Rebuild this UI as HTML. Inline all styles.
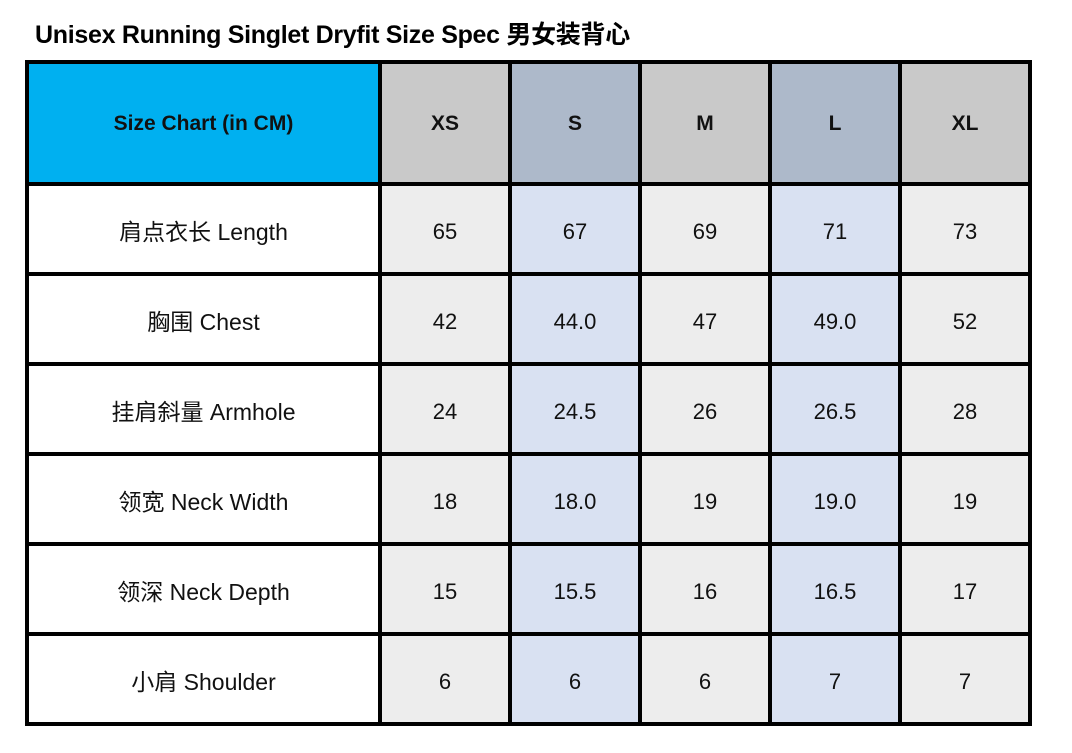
<!DOCTYPE html>
<html><head><meta charset="utf-8"><style>
body{margin:0;width:1072px;height:753px;background:#fff;position:relative;overflow:hidden;font-family:"Liberation Sans","Noto Sans CJK SC",sans-serif;}
.t{position:absolute;left:35px;top:15px;font-size:25px;font-weight:bold;color:#000;letter-spacing:-0.3px;}
.c{position:absolute;display:flex;align-items:center;justify-content:center;font-size:22px;color:#111;box-sizing:border-box;padding-top:6px;}
.h{font-weight:bold;font-size:21px;padding-top:2px;}
.f{font-size:23px;padding-top:1px;}
.v{position:absolute;background:#000;width:4px;top:60px;height:666px;}
.hl{position:absolute;background:#000;height:4px;left:25px;width:1007px;}
</style></head><body>
<div class="t">Unisex Running Singlet Dryfit Size Spec 男女装背心</div>
<div id="g"></div>
<script>
var xs=[27,380,510,640,770,900,1030],ys=[62,184,274,364,454,544,634,724];
var hdr=["Size Chart (in CM)","XS","S","M","L","XL"];
var rows=[["肩点衣长 Length","65","67","69","71","73"],["胸围 Chest","42","44.0","47","49.0","52"],["挂肩斜量 Armhole","24","24.5","26","26.5","28"],["领宽 Neck Width","18","18.0","19","19.0","19"],["领深 Neck Depth","15","15.5","16","16.5","17"],["小肩 Shoulder","6","6","6","7","7"]];
var hc=["#00B0F0","#C9C9C9","#ADB9CA","#C9C9C9","#ADB9CA","#C9C9C9"];
var bc=["#FFFFFF","#EDEDED","#D9E1F2","#EDEDED","#D9E1F2","#EDEDED"];
var h="";
for(var r=0;r<7;r++)for(var c=0;c<6;c++){
 var txt=r==0?hdr[c]:rows[r-1][c];
 var cls='c'+(r==0?' h':'')+(r>0&&c==0?' f':'');
 h+='<div class="'+cls+'" style="left:'+xs[c]+'px;top:'+ys[r]+'px;width:'+(xs[c+1]-xs[c])+'px;height:'+(ys[r+1]-ys[r])+'px;background:'+(r==0?hc[c]:bc[c])+'">'+txt+'</div>';
}
for(var i=0;i<xs.length;i++)h+='<div class="v" style="left:'+(xs[i]-2)+'px"></div>';
for(var j=0;j<ys.length;j++)h+='<div class="hl" style="top:'+(ys[j]-2)+'px"></div>';
document.getElementById("g").innerHTML=h;
</script>
</body></html>
